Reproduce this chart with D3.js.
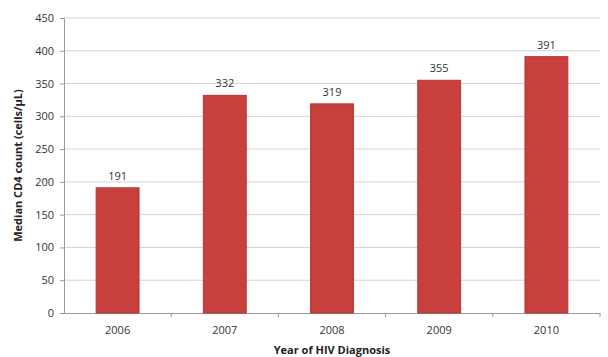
<!DOCTYPE html>
<html><head><meta charset="utf-8">
<script src="https://cdn.jsdelivr.net/npm/d3@7"></script>
<style>body{margin:0;background:#fff}svg{display:block}</style>
</head><body><svg id="c" width="608" height="357"></svg>
<script>
const years = ["2006","2007","2008","2009","2010"];
const medianCD4 = [191, 332, 319, 355, 391];
const yTicks = [0,50,100,150,200,250,300,350,400,450];

const svg = d3.select("#c");
const m = {l:64, r:8, t:18, b:44};
const W = 608, H = 357;
const x = d3.scaleBand().domain(years).range([m.l, W - m.r]).paddingInner(0.6).paddingOuter(0.3);
const xb = d3.scaleBand().domain(years).range([m.l, W - m.r]);
const y = d3.scaleLinear().domain([0,450]).range([H - m.b, m.t]);
const font = "'Open Sans', 'Liberation Sans', sans-serif";

// gridlines
svg.append("g").selectAll("line").data(yTicks.slice(1)).join("line")
  .attr("x1", m.l).attr("x2", W - m.r)
  .attr("y1", d => y(d)).attr("y2", d => y(d))
  .attr("stroke", "#d4d4d4").attr("stroke-width", 1);

// y axis
const ya = svg.append("g").attr("transform", `translate(${m.l},0)`)
  .call(d3.axisLeft(y).tickValues(yTicks).tickSize(4).tickPadding(6));
ya.select(".domain").attr("stroke", "#999");
ya.selectAll(".tick line").attr("stroke", "#999");
ya.selectAll("text").attr("font-family", font).attr("font-size", 11).attr("fill", "#333");

// x axis
const xa = svg.append("g").attr("transform", `translate(0,${y(0)})`)
  .call(d3.axisBottom(xb).tickSize(0).tickPadding(13));
xa.select(".domain").attr("stroke", "#999");
xa.selectAll("text").attr("font-family", font).attr("font-size", 11).attr("fill", "#333");
// category boundary ticks
svg.append("g").selectAll("line").data(years).join("line")
  .attr("x1", d => xb(d) + xb.bandwidth()).attr("x2", d => xb(d) + xb.bandwidth())
  .attr("y1", y(0)).attr("y2", y(0) + 4).attr("stroke", "#999");

// bars
svg.append("g").selectAll("rect").data(years).join("rect")
  .attr("x", d => x(d)).attr("width", x.bandwidth())
  .attr("y", (d,i) => y(medianCD4[i])).attr("height", (d,i) => y(0) - y(medianCD4[i]))
  .attr("fill", "#c8403e").attr("stroke", "#b53534").attr("stroke-width", 1);

// value labels
svg.append("g").selectAll("text").data(years).join("text")
  .attr("x", d => x(d) + x.bandwidth()/2)
  .attr("y", (d,i) => y(medianCD4[i]) - 8)
  .attr("text-anchor", "middle").attr("font-family", font).attr("font-size", 11).attr("fill", "#333")
  .text((d,i) => medianCD4[i]);

// axis titles
svg.append("text").attr("x", (m.l + W - m.r)/2).attr("y", 354)
  .attr("text-anchor", "middle").attr("font-family", font).attr("font-size", 11).attr("font-weight", "bold").attr("fill", "#222")
  .text("Year of HIV Diagnosis");
svg.append("text").attr("transform", `translate(22,${(m.t + H - m.b)/2}) rotate(-90)`)
  .attr("text-anchor", "middle").attr("font-family", font).attr("font-size", 11).attr("font-weight", "bold").attr("fill", "#222")
  .text("Median CD4 count (cells/µL)");
</script></body></html>
